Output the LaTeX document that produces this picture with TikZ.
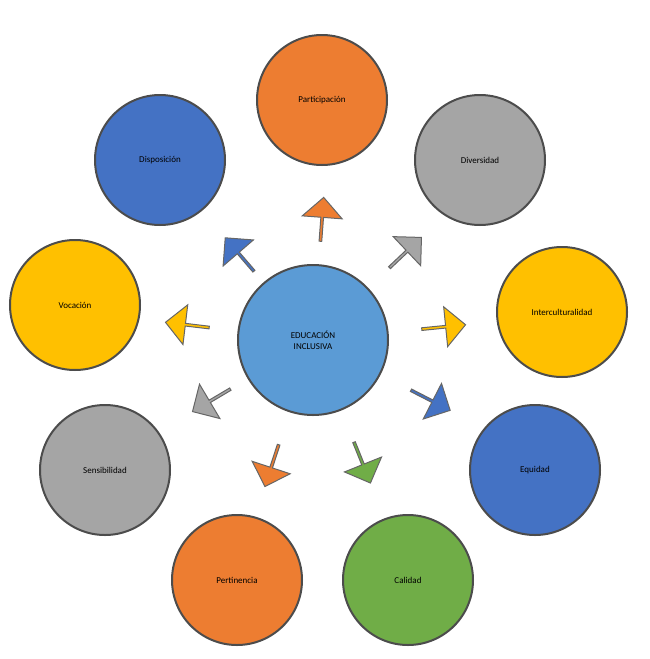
\documentclass[tikz,border=0pt]{standalone}
\usepackage{fontspec}
\setmainfont{Carlito}
\usetikzlibrary{shapes.arrows}
\definecolor{corange}{HTML}{ED7D31}
\definecolor{cgray}{HTML}{A5A5A5}
\definecolor{cgold}{HTML}{FFC000}
\definecolor{cblue}{HTML}{4472C4}
\definecolor{cgreen}{HTML}{70AD47}
\definecolor{clight}{HTML}{5B9BD5}
\begin{document}
\begin{tikzpicture}[x=1pt, y=-1pt,
				every node/.style = {font=\small},
				topic/.style = {circle, minimum size=130pt, draw=black!70, line width=2pt, inner sep=0pt},
				pointer/.style = {single arrow, single arrow head extend=7pt, minimum height=44pt, minimum width=40pt, draw=black!60, line width=1pt, inner sep=0pt}
				]
				\useasboundingbox (0,0) rectangle (650,659);
				\node[topic, minimum size=150pt, fill=clight, align=center] (centro) at (313,340) {EDUCACIÓN\\INCLUSIVA};
				\foreach \nm/\x/\y/\col/\txt/\ax/\ay in {
					part/322/100/corange/Participación/322/220,
					div/480/160/cgray/Diversidad/405/253,
					inter/562/312/cgold/Interculturalidad/443/327,
					equ/535/470/cblue/Equidad/430/400,
					cal/408/580/cgreen/Calidad/362/462,
					pert/237/580/corange/Pertinencia/272/465,
					sens/105/470/cgray/Sensibilidad/212/400,
					voc/75/305/cgold/Vocación/188/325,
					disp/160/160/cblue/Disposición/240/255}
				{
					\node[topic, fill=\col] (\nm) at (\x,\y) {\txt};
					\pgfmathsetmacro\ang{atan2(340-\ay,\ax-313)}
					\node[pointer, fill=\col, rotate=\ang] (f-\nm) at (\ax,\ay) {};
				}
				\end{tikzpicture}
\end{document}
